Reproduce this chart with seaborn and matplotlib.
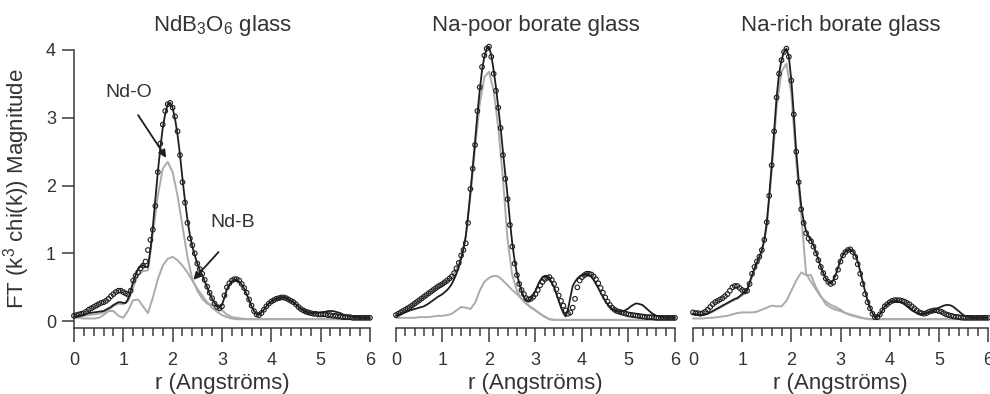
import numpy as np
import matplotlib
matplotlib.use('agg')
import matplotlib.pyplot as plt
from matplotlib.ticker import MultipleLocator
import seaborn as sns

# r grids (Angstroms): measured FT every 0.05 A, fitted shells every 0.1 A
r_fine = np.round(np.arange(0, 6.001, 0.05), 2)
r = np.round(np.arange(0, 6.01, 0.1), 1)

titles = [r"NdB$_3$O$_6$ glass", "Na-poor borate glass", "Na-rich borate glass"]

# NdB3O6 glass
nd_data = [0.08, 0.09, 0.10, 0.11, 0.12, 0.14, 0.17, 0.19, 0.21, 0.23,
           0.25, 0.27, 0.28, 0.30, 0.33, 0.37, 0.40, 0.43, 0.45, 0.45,
           0.43, 0.41, 0.39, 0.45, 0.60, 0.67, 0.72, 0.78, 0.82, 0.88,
           1.05, 1.20, 1.35, 1.70, 2.20, 2.62, 2.90, 3.10, 3.20, 3.22,
           3.15, 3.02, 2.80, 2.45, 2.05, 1.75, 1.45, 1.22, 1.12, 1.00,
           0.85, 0.77, 0.70, 0.61, 0.51, 0.42, 0.34, 0.26, 0.21, 0.19,
           0.22, 0.38, 0.50, 0.56, 0.60, 0.62, 0.62, 0.60, 0.55, 0.49,
           0.42, 0.32, 0.23, 0.15, 0.10, 0.09, 0.12, 0.17, 0.22, 0.26,
           0.29, 0.31, 0.33, 0.34, 0.35, 0.35, 0.34, 0.32, 0.30, 0.28,
           0.25, 0.21, 0.18, 0.16, 0.14, 0.13, 0.12, 0.11, 0.11, 0.10,
           0.10, 0.10, 0.10, 0.09, 0.09, 0.08, 0.08, 0.07, 0.07, 0.06,
           0.06, 0.06, 0.06, 0.05, 0.05, 0.05, 0.05, 0.05, 0.05, 0.05,
           0.05]
nd_fit = [0.07, 0.075, 0.08, 0.09, 0.10, 0.11, 0.12, 0.125, 0.13, 0.135,
          0.14, 0.145, 0.15, 0.17, 0.19, 0.21, 0.24, 0.26, 0.28, 0.28,
          0.27, 0.27, 0.33, 0.45, 0.58, 0.68, 0.77, 0.81, 0.83, 0.80,
          0.80, 1.05, 1.40, 1.80, 2.20, 2.55, 2.85, 3.06, 3.20, 3.22,
          3.15, 2.98, 2.75, 2.45, 2.10, 1.78, 1.50, 1.27, 1.10, 0.97,
          0.85, 0.76, 0.68, 0.59, 0.50, 0.41, 0.33, 0.27, 0.22, 0.21,
          0.24, 0.35, 0.47, 0.54, 0.59, 0.61, 0.61, 0.58, 0.54, 0.48,
          0.40, 0.31, 0.22, 0.15, 0.10, 0.10, 0.13, 0.17, 0.22, 0.26,
          0.29, 0.31, 0.33, 0.34, 0.35, 0.35, 0.34, 0.32, 0.30, 0.28,
          0.25, 0.21, 0.18, 0.16, 0.14, 0.13, 0.12, 0.12, 0.12, 0.125,
          0.13, 0.135, 0.14, 0.15, 0.15, 0.15, 0.14, 0.13, 0.12, 0.10,
          0.09, 0.08, 0.07, 0.065, 0.06, 0.055, 0.05, 0.05, 0.05, 0.05,
          0.05]
nd_shell1 = [0.06, 0.07, 0.08, 0.09, 0.10, 0.11, 0.13, 0.17, 0.22, 0.26,
             0.25, 0.30, 0.50, 0.68, 0.74, 0.75, 1.30, 1.85, 2.25, 2.35,
             2.20, 1.85, 1.40, 0.95, 0.62, 0.45, 0.33, 0.26, 0.24, 0.22,
             0.16, 0.10, 0.06, 0.05, 0.04, 0.03, 0.03, 0.03, 0.03, 0.03,
             0.03, 0.03, 0.03, 0.03, 0.03, 0.03, 0.03, 0.03, 0.03, 0.03,
             0.03, 0.03, 0.03, 0.03, 0.03, 0.03, 0.03, 0.03, 0.03, 0.03, 0.03]
nd_shell2 = [0.05, 0.05, 0.04, 0.04, 0.04, 0.05, 0.09, 0.15, 0.15, 0.08,
             0.05, 0.16, 0.31, 0.32, 0.22, 0.12, 0.35, 0.62, 0.82, 0.92,
             0.95, 0.90, 0.82, 0.72, 0.60, 0.48, 0.38, 0.28, 0.20, 0.14,
             0.09, 0.06, 0.04, 0.03, 0.03, 0.03, 0.03, 0.03, 0.03, 0.03,
             0.03, 0.03, 0.03, 0.03, 0.03, 0.03, 0.03, 0.03, 0.03, 0.03,
             0.03, 0.03, 0.03, 0.03, 0.03, 0.03, 0.03, 0.03, 0.03, 0.03, 0.03]

# Na-poor borate glass
poor_data = [0.09, 0.11, 0.13, 0.15, 0.17, 0.19, 0.21, 0.235, 0.26, 0.285,
             0.31, 0.335, 0.36, 0.385, 0.41, 0.435, 0.46, 0.485, 0.51, 0.53,
             0.55, 0.575, 0.60, 0.63, 0.66, 0.71, 0.78, 0.86, 0.97, 1.05,
             1.15, 1.45, 1.95, 2.25, 2.60, 3.10, 3.45, 3.75, 3.92, 4.02,
             4.05, 3.90, 3.65, 3.40, 3.15, 2.85, 2.45, 2.10, 1.80, 1.42,
             1.10, 0.85, 0.68, 0.55, 0.46, 0.40, 0.34, 0.32, 0.33, 0.36,
             0.40, 0.46, 0.53, 0.58, 0.62, 0.64, 0.65, 0.61, 0.55, 0.47,
             0.38, 0.30, 0.23, 0.16, 0.11, 0.13, 0.20, 0.33, 0.50, 0.60,
             0.65, 0.68, 0.70, 0.70, 0.69, 0.66, 0.62, 0.56, 0.49, 0.42,
             0.35, 0.29, 0.24, 0.20, 0.17, 0.15, 0.14, 0.13, 0.12, 0.11,
             0.10, 0.095, 0.09, 0.085, 0.08, 0.075, 0.07, 0.065, 0.06, 0.06,
             0.06, 0.055, 0.05, 0.05, 0.05, 0.05, 0.05, 0.05, 0.05, 0.05,
             0.05]
poor_fit = [0.08, 0.09, 0.10, 0.115, 0.13, 0.145, 0.16, 0.17, 0.18, 0.19,
            0.20, 0.21, 0.22, 0.24, 0.26, 0.285, 0.31, 0.335, 0.36, 0.38,
            0.40, 0.43, 0.46, 0.50, 0.55, 0.62, 0.70, 0.80, 0.92, 1.06,
            1.25, 1.55, 1.90, 2.27, 2.65, 3.05, 3.40, 3.70, 3.90, 4.02,
            4.05, 3.92, 3.70, 3.45, 3.15, 2.85, 2.50, 2.17, 1.85, 1.48,
            1.15, 0.90, 0.70, 0.56, 0.45, 0.36, 0.30, 0.29, 0.33, 0.38,
            0.45, 0.53, 0.60, 0.65, 0.67, 0.66, 0.63, 0.57, 0.50, 0.40,
            0.30, 0.20, 0.12, 0.07, 0.18, 0.35, 0.52, 0.58, 0.63, 0.66,
            0.68, 0.69, 0.70, 0.68, 0.66, 0.61, 0.55, 0.49, 0.42, 0.36,
            0.30, 0.25, 0.21, 0.18, 0.16, 0.15, 0.14, 0.14, 0.15, 0.17,
            0.19, 0.22, 0.24, 0.26, 0.26, 0.25, 0.24, 0.21, 0.18, 0.15,
            0.12, 0.10, 0.08, 0.07, 0.06, 0.055, 0.05, 0.05, 0.05, 0.05,
            0.05]
poor_shell1 = [0.08, 0.12, 0.16, 0.20, 0.25, 0.30, 0.35, 0.40, 0.45, 0.50,
               0.54, 0.59, 0.65, 0.76, 0.95, 1.25, 1.85, 2.55, 3.20, 3.60,
               3.68, 3.40, 2.85, 2.10, 1.20, 0.68, 0.45, 0.33, 0.26, 0.21,
               0.16, 0.11, 0.06, 0.03, 0.02, 0.02, 0.02, 0.02, 0.02, 0.02,
               0.02, 0.02, 0.02, 0.02, 0.02, 0.02, 0.02, 0.02, 0.02, 0.02,
               0.02, 0.02, 0.02, 0.02, 0.02, 0.02, 0.02, 0.02, 0.02, 0.02, 0.02]
poor_shell2 = [0.05, 0.05, 0.05, 0.05, 0.05, 0.06, 0.06, 0.06, 0.07, 0.08,
               0.08, 0.09, 0.11, 0.16, 0.21, 0.20, 0.18, 0.27, 0.45, 0.58,
               0.64, 0.67, 0.66, 0.60, 0.53, 0.46, 0.40, 0.33, 0.26, 0.20,
               0.16, 0.11, 0.07, 0.03, 0.02, 0.02, 0.02, 0.02, 0.02, 0.02,
               0.02, 0.02, 0.02, 0.02, 0.02, 0.02, 0.02, 0.02, 0.02, 0.02,
               0.02, 0.02, 0.02, 0.02, 0.02, 0.02, 0.02, 0.02, 0.02, 0.02, 0.02]

# Na-rich borate glass
rich_data = [0.13, 0.12, 0.12, 0.11, 0.12, 0.14, 0.17, 0.21, 0.25, 0.28,
             0.30, 0.32, 0.34, 0.37, 0.40, 0.45, 0.50, 0.52, 0.52, 0.49,
             0.46, 0.44, 0.45, 0.55, 0.70, 0.80, 0.88, 0.95, 1.05, 1.20,
             1.46, 1.85, 2.30, 2.80, 3.30, 3.65, 3.85, 3.97, 4.02, 3.90,
             3.55, 3.05, 2.50, 2.05, 1.65, 1.45, 1.30, 1.22, 1.18, 1.10,
             1.00, 0.90, 0.80, 0.71, 0.63, 0.58, 0.55, 0.57, 0.65, 0.76,
             0.88, 0.97, 1.02, 1.05, 1.06, 1.02, 0.95, 0.84, 0.70, 0.55,
             0.40, 0.28, 0.19, 0.11, 0.06, 0.06, 0.10, 0.16, 0.22, 0.25,
             0.28, 0.30, 0.31, 0.31, 0.31, 0.30, 0.29, 0.27, 0.25, 0.22,
             0.19, 0.16, 0.13, 0.12, 0.11, 0.12, 0.14, 0.15, 0.16, 0.16,
             0.15, 0.14, 0.12, 0.10, 0.09, 0.08, 0.07, 0.065, 0.06, 0.055,
             0.05, 0.05, 0.05, 0.05, 0.05, 0.05, 0.05, 0.05, 0.05, 0.05,
             0.05]
rich_fit = [0.11, 0.105, 0.10, 0.095, 0.09, 0.10, 0.11, 0.13, 0.15, 0.17,
            0.19, 0.21, 0.23, 0.25, 0.27, 0.29, 0.31, 0.33, 0.34, 0.37,
            0.40, 0.43, 0.46, 0.57, 0.68, 0.78, 0.87, 0.95, 1.05, 1.20,
            1.45, 1.85, 2.30, 2.80, 3.30, 3.65, 3.85, 3.97, 4.02, 3.90,
            3.55, 3.05, 2.50, 2.07, 1.70, 1.48, 1.33, 1.25, 1.20, 1.12,
            1.02, 0.91, 0.80, 0.71, 0.63, 0.58, 0.56, 0.60, 0.68, 0.79,
            0.90, 0.98, 1.03, 1.05, 1.06, 1.03, 0.98, 0.88, 0.74, 0.59,
            0.44, 0.31, 0.20, 0.12, 0.06, 0.07, 0.10, 0.16, 0.22, 0.25,
            0.28, 0.29, 0.30, 0.30, 0.29, 0.27, 0.25, 0.22, 0.19, 0.16,
            0.14, 0.12, 0.11, 0.105, 0.11, 0.12, 0.13, 0.145, 0.16, 0.18,
            0.20, 0.215, 0.23, 0.24, 0.24, 0.23, 0.21, 0.18, 0.15, 0.12,
            0.09, 0.07, 0.06, 0.055, 0.05, 0.05, 0.05, 0.05, 0.05, 0.05,
            0.05]
rich_shell1 = [0.10, 0.09, 0.09, 0.11, 0.14, 0.18, 0.22, 0.26, 0.30, 0.33,
               0.38, 0.44, 0.65, 0.84, 1.00, 1.40, 2.20, 3.15, 3.68, 3.80,
               3.35, 2.35, 1.58, 0.70, 0.58, 0.47, 0.36, 0.29, 0.24, 0.21,
               0.17, 0.12, 0.09, 0.07, 0.05, 0.04, 0.03, 0.03, 0.03, 0.03,
               0.03, 0.03, 0.03, 0.03, 0.03, 0.03, 0.03, 0.03, 0.03, 0.03,
               0.03, 0.03, 0.03, 0.03, 0.03, 0.03, 0.03, 0.03, 0.03, 0.03, 0.03]
rich_shell2 = [0.04, 0.04, 0.04, 0.05, 0.05, 0.06, 0.07, 0.08, 0.10, 0.12,
               0.13, 0.13, 0.13, 0.14, 0.17, 0.20, 0.23, 0.22, 0.22, 0.30,
               0.45, 0.60, 0.72, 0.68, 0.68, 0.50, 0.37, 0.25, 0.20, 0.17,
               0.15, 0.12, 0.10, 0.08, 0.06, 0.04, 0.03, 0.03, 0.03, 0.03,
               0.03, 0.03, 0.03, 0.03, 0.03, 0.03, 0.03, 0.03, 0.03, 0.03,
               0.03, 0.03, 0.03, 0.03, 0.03, 0.03, 0.03, 0.03, 0.03, 0.03, 0.03]

panels = [(nd_data, nd_fit, nd_shell1, nd_shell2),
          (poor_data, poor_fit, poor_shell1, poor_shell2),
          (rich_data, rich_fit, rich_shell1, rich_shell2)]

sns.set_style("ticks")
plt.rcParams['font.family'] = ['Liberation Sans', 'DejaVu Sans']
plt.rcParams['mathtext.default'] = 'regular'

dark = '#1e1e1e'
grey = '#ababab'
axis_col = '#3a3a3a'
text_col = '#333333'

fig = plt.figure(figsize=(9.9, 3.94), dpi=100)
# axes boxes in figure fractions (left, bottom, width, height)
boxes = [(0.0747, 0.1675, 0.2990, 0.7056),
         (0.4000, 0.1675, 0.2818, 0.7056),
         (0.7000, 0.1675, 0.2980, 0.7056)]

for i, (box, (data, fit, s1, s2)) in enumerate(zip(boxes, panels)):
    ax = fig.add_axes(box)
    for comp in (s2, s1):
        sns.lineplot(x=r, y=comp, ax=ax, color=grey, lw=1.4, clip_on=False)
    sns.lineplot(x=r_fine, y=fit, ax=ax, color=dark, lw=1.3, clip_on=False)
    sns.scatterplot(x=r_fine, y=data, ax=ax, marker='o', s=11, facecolor='none',
                    edgecolor=dark, linewidth=0.8, clip_on=False, zorder=4)

    ax.set_xlim(0, 6)
    ax.set_ylim(-0.1, 4)
    ax.xaxis.set_major_locator(MultipleLocator(1))
    ax.xaxis.set_minor_locator(MultipleLocator(0.2))
    ax.tick_params(axis='x', which='major', length=10, width=1.1, color=axis_col,
                   labelsize=13, labelcolor=text_col, pad=7)
    ax.tick_params(axis='x', which='minor', length=6, width=1.1, color=axis_col)
    ax.set_xlabel("r (Angströms)", fontsize=16, color=text_col, labelpad=3)
    ax.set_title(titles[i], fontsize=16, color=text_col, pad=14)
    sns.despine(ax=ax)
    ax.spines['bottom'].set_color(axis_col)
    ax.spines['bottom'].set_linewidth(1.1)
    if i == 0:
        ax.set_yticks([0, 1, 2, 3, 4])
        ax.tick_params(axis='y', length=9, width=1.1, color=axis_col,
                       labelsize=13, labelcolor=text_col, pad=4)
        ax.spines['left'].set_color(axis_col)
        ax.spines['left'].set_linewidth(1.1)
        ax.set_ylabel(r"FT (k$^3$ chi(k)) Magnitude", fontsize=16,
                      color=text_col, labelpad=10)
        ax.text(1.12, 3.38, "Nd-O", fontsize=14, color=text_col,
                ha='center', va='center')
        ax.annotate("", xy=(1.87, 2.41), xytext=(1.30, 3.04),
                    arrowprops=dict(arrowstyle='-|>', color=dark, lw=1.3,
                                    mutation_scale=11, shrinkA=0, shrinkB=0))
        ax.text(3.21, 1.46, "Nd-B", fontsize=14, color=text_col,
                ha='center', va='center')
        ax.annotate("", xy=(2.42, 0.61), xytext=(2.93, 1.02),
                    arrowprops=dict(arrowstyle='-|>', color=dark, lw=1.3,
                                    mutation_scale=11, shrinkA=0, shrinkB=0))
    else:
        ax.spines['left'].set_visible(False)
        ax.set_yticks([])
        ax.set_ylabel("")

fig.savefig("out.png", dpi=100)
